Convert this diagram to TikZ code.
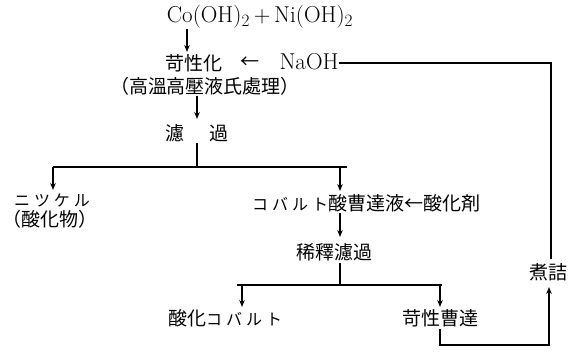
\documentclass[tikz,border=0pt]{standalone}
\usepackage{fontspec}
\usetikzlibrary{arrows.meta}
\newfontfamily\cjk{Noto Sans CJK JP}
\newfontfamily\kata[LetterSpace=25]{Noto Sans CJK JP}
\tikzset{
  lbl/.style={inner sep=0pt, font=\cjk\fontsize{19pt}{22pt}\selectfont},
  lat/.style={inner sep=0pt, font=\fontsize{23pt}{26pt}\selectfont},
  ln/.style={line width=1.1pt},
  arr/.style={line width=1.1pt, -{Stealth[length=7pt,width=5.5pt]}}
}
\newcommand{\kt}[1]{{\kata\fontsize{16pt}{18pt}\selectfont #1}}
\begin{document}
\begin{tikzpicture}[x=1pt,y=-1pt]
\useasboundingbox (0,0) rectangle (571,356);
\fill[white] (0,0) rectangle (571,356);
% nodes
\node[lat] (top) at (260,17) {Co(OH)$_2$\,+\,Ni(OH)$_2$};
\node[lbl] (kas) at (194,63) {苛性化};
\node[lbl] (larr) at (250,63) {←};
\node[lat] (naoh) at (309,62) {NaOH};
\node[lbl] (hi) at (205,86) {（高溫高壓液氏處理）};
\node[lbl] (roka) at (197,133) {濾\hspace{26pt}過};
\node[lbl] (nic) at (52,200) {\kt{ニツケル}};
\node[lbl] (sanka) at (50,219) {（酸化物）};
\node[lbl,anchor=west] (cob) at (252,203) {\kt{コバルト}酸曹達液←酸化剤};
\node[lbl] (kiseki) at (334,252) {稀釋濾過};
\node[lbl] (scob) at (225,318) {酸化\kt{コバルト}};
\node[lbl] (kaso) at (440,318) {苛性曹達};
\node[lbl] (niz) at (548,272) {煮詰};
% coordinates
\coordinate (a1) at (187,29);
\coordinate (a1e) at (187,52);
\coordinate (b1) at (197,96);
\coordinate (b1e) at (197,119);
\coordinate (c1) at (197,143);
\coordinate (c2) at (197,167);
\coordinate (hl) at (53,167);
\coordinate (hr) at (347,167);
\coordinate (n1) at (53,190);
\coordinate (k0) at (340,167);
\coordinate (k1) at (340,191);
\coordinate (d0) at (340,213);
\coordinate (d1) at (340,237);
\coordinate (e0) at (340,263);
\coordinate (e1) at (340,285);
\coordinate (fl) at (237,285);
\coordinate (fr) at (442,285);
\coordinate (g0) at (242,285);
\coordinate (g1) at (242,307);
\coordinate (h0) at (440,285);
\coordinate (h1) at (440,307);
\coordinate (i0) at (440,329);
\coordinate (i1) at (440,345);
\coordinate (i2) at (549,345);
\coordinate (i3) at (549,287);
\coordinate (j0) at (551,259);
\coordinate (j1) at (551,63);
% connectors
\draw[arr] (a1) -- (a1e);
\draw[arr] (b1) -- (b1e);
\draw[ln] (c1) -- (c2);
\draw[ln] (hl) -- (hr);
\draw[arr] (hl) -- (n1);
\draw[arr] (k0) -- (k1);
\draw[arr] (d0) -- (d1);
\draw[ln] (e0) -- (e1);
\draw[ln] (fl) -- (fr);
\draw[arr] (g0) -- (g1);
\draw[arr] (h0) -- (h1);
\draw[arr] (i0) -- (i1) -- (i2) -- (i3);
\draw[ln] (j0) -- (j1) -- (naoh.east |- j1);
\end{tikzpicture}
\end{document}
